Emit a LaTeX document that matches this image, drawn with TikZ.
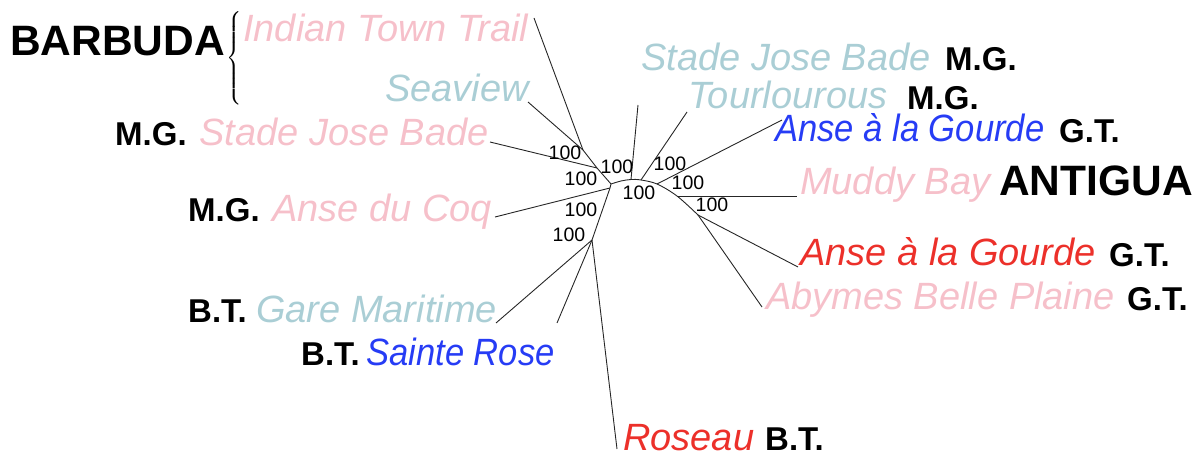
\documentclass[tikz,border=0pt]{standalone}
\usepackage{amsmath}
\usepackage{fontspec}
\setmainfont{Liberation Sans}
\definecolor{pinkc}{RGB}{246,192,202}
\definecolor{lbluec}{RGB}{170,206,213}
\definecolor{bluec}{RGB}{38,60,245}
\definecolor{redc}{RGB}{236,48,42}
\begin{document}
\begin{tikzpicture}[x=1pt,y=-1pt,
  taxon/.style={anchor=base west, inner sep=0pt, font=\fontsize{38}{40}\selectfont\itshape},
  loc/.style={anchor=base west, inner sep=0pt, font=\fontsize{33}{35}\selectfont\bfseries},
  region/.style={anchor=base west, inner sep=0pt, font=\fontsize{42.5}{45}\selectfont\bfseries},
  boot/.style={inner sep=0pt, font=\fontsize{19.5}{20}\selectfont},
  branch/.style={line width=0.9pt, draw=black!85, line join=round}]
\useasboundingbox (0,0) rectangle (1203,457);

% labels left
\node[region] (barbuda) at (10,56) {BARBUDA};
\node[inner sep=0pt, font=\fontsize{17}{17}\selectfont] (brace) at (235,58) {$\left\{\vcenter{\hbox{\rule{0pt}{94pt}}}\right.$};
\node[taxon, pinkc] (indian) at (243,42) {Indian Town Trail};
\node[taxon, lbluec] (seaview) at (385,102) {Seaview};
\node[loc] (mg1) at (115,146) {M.G.};
\node[taxon, pinkc] (stadep) at (199,146) {Stade Jose Bade};
\node[loc] (mg2) at (188,222) {M.G.};
\node[taxon, pinkc] (coq) at (272,222) {Anse du Coq};
\node[loc] (bt1) at (188,323) {B.T.};
\node[taxon, lbluec] (gare) at (256,323) {Gare Maritime};
\node[loc] (bt2) at (301,365) {B.T.};
\node[taxon, bluec] (sainte) at (366,365) {\scalebox{0.91}[1]{Sainte Rose}};
\node[taxon, redc] (roseau) at (623,450) {Roseau};
\node[loc] (bt3) at (765,450) {B.T.};

% labels right
\node[taxon, lbluec] (stadeb) at (641,71) {Stade Jose Bade};
\node[loc] (mg3) at (945,71) {M.G.};
\node[taxon, lbluec] (tour) at (688,109) {Tourlourous};
\node[loc] (mg4) at (907,110) {M.G.};
\node[taxon, bluec] (anseb) at (775,142) {\scalebox{0.91}[1]{Anse à la Gourde}};
\node[loc] (gt1) at (1059,143) {G.T.};
\node[taxon, pinkc] (muddy) at (800,195) {Muddy Bay};
\node[region] (antigua) at (999,196) {ANTIGUA};
\node[taxon, redc] (anser) at (800,266) {Anse à la Gourde};
\node[loc] (gt2) at (1109,267) {G.T.};
\node[taxon, pinkc] (abymes) at (766,309) {Abymes Belle Plaine};
\node[loc] (gt3) at (1127,310) {G.T.};

% tree points
\coordinate (N1) at (583,150);
\coordinate (N2) at (597,168);
\coordinate (L0) at (611,184);
\coordinate (J) at (610,188);
\coordinate (N3) at (592,240);
\coordinate (Q1) at (621,181);
\coordinate (P1) at (631,179.5);
\coordinate (P2) at (641,180);
\coordinate (P3) at (657,184);
\coordinate (P4) at (677,196);
\coordinate (P5) at (698,215);
% leaf ends
\coordinate (eIndian) at (534,18);
\coordinate (eSeaview) at (528,102);
\coordinate (eStadeP) at (490,142);
\coordinate (eCoq) at (495,217);
\coordinate (eGare) at (496,323);
\coordinate (eSainte) at (557,323);
\coordinate (eRoseau) at (617,449);
\coordinate (eStadeB) at (638,105);
\coordinate (eTour) at (687,112);
\coordinate (eAnseB) at (782,120);
\coordinate (eMuddy) at (797,196);
\coordinate (eAnseR) at (798,267);
\coordinate (eAbymes) at (762,307);

\draw[branch] (eIndian) -- (N1) -- (N2) -- (L0) -- (J) -- (N3);
\draw[branch] (eSeaview) -- (N1);
\draw[branch] (eStadeP) -- (N2);
\draw[branch] (eCoq) -- (J);
\draw[branch] (N3) -- (eGare);
\draw[branch] (N3) -- (eSainte);
\draw[branch] (N3) -- (eRoseau);
\draw[branch] plot[smooth, tension=0.55] coordinates {(L0) (Q1) (P1) (P2) (P3) (P4) (P5)};
\draw[branch] (P1) -- (eStadeB);
\draw[branch] (P2) -- (eTour);
\draw[branch] (P3) -- (eAnseB);
\draw[branch] (P4) -- (eMuddy);
\draw[branch] (P5) -- (eAnseR);
\draw[branch] (P5) -- (eAbymes);

% bootstrap values
\node[boot] (b1) at (565,153) {100};
\node[boot] (b2) at (581,179) {100};
\node[boot] (b3) at (617,167) {100};
\node[boot] (b4) at (670,164) {100};
\node[boot] (b5) at (639,193) {100};
\node[boot] (b6) at (688,183) {100};
\node[boot] (b7) at (712,205) {100};
\node[boot] (b8) at (581,210) {100};
\node[boot] (b9) at (569,235) {100};
\end{tikzpicture}
\end{document}
